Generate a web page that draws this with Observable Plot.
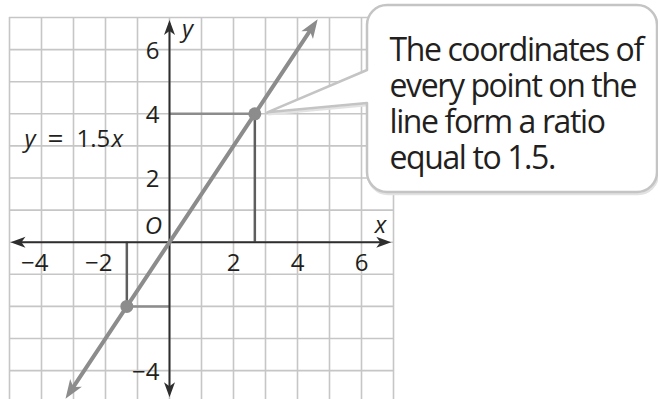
<!DOCTYPE html>
<html>
<head>
<meta charset="utf-8">
<script src="https://cdn.jsdelivr.net/npm/d3@7"></script>
<script src="https://cdn.jsdelivr.net/npm/@observablehq/plot@0.6"></script>
<style>
  html, body { margin: 0; padding: 0; background: #fff; }
  #chart svg { display: block; }
</style>
</head>
<body>
<div id="chart"></div>
<script>
// Coordinate grid, axis tick labels
const gridX = d3.range(-5, 8);
const gridY = d3.range(-4, 8);
const xTicks = [-4, -2, 2, 4, 6];
const yTicks = [6, 4, 2, -4];

// The line y = 1.5x, its drawn extent and the two marked points
const slope = 1.5;
const lineEnds = [-3.25, 4.63];
const markedPoints = [
  {x: -4 / 3, y: -2},
  {x: 8 / 3, y: 4}
];

const calloutText = "The coordinates of\nevery point on the\nline form a ratio\nequal to 1.5.";

// Layout
const W = 658, H = 399;
const M = {left: 9, right: 265, top: 17, bottom: 0};
const xDomain = [-5, 7], yDomain = [-4.9, 7];
const kx = (W - M.left - M.right) / (xDomain[1] - xDomain[0]);
const ky = (H - M.top - M.bottom) / (yDomain[1] - yDomain[0]);

const FONT = "'Open Sans', sans-serif";
const INK = "#231f20";
const AXIS = "#2e2e2e";
const GRID = "#c6c6c6";
const LINE = "#8c8c8c";
const GUIDE_DARK = "#5e5e5e";
const FS = 24;

const fmt = v => (v < 0 ? "\u2212" : "") + Math.abs(v);

// Notched arrowhead with its tip at the origin, pointing up
function head(len, hw, notch) {
  return {
    draw(ctx) {
      ctx.moveTo(0, 0);
      ctx.lineTo(-hw, len);
      ctx.lineTo(0, len - notch);
      ctx.lineTo(hw, len);
      ctx.closePath();
    }
  };
}

// Line geometry in pixel terms for the arrowhead angle and trimming
const angle = Math.atan2(kx, slope * ky) * 180 / Math.PI;
const trim = 8 / Math.hypot(kx, slope * ky); // 8px along the line, in x units
const lineData = [
  {x: lineEnds[0] + trim, y: slope * (lineEnds[0] + trim)},
  {x: lineEnds[1] - trim, y: slope * (lineEnds[1] - trim)}
];
const lineHeads = [
  {x: lineEnds[0], y: slope * lineEnds[0], rot: angle + 180},
  {x: lineEnds[1], y: slope * lineEnds[1], rot: angle}
];

const axisHeads = [
  {x: -4.97, y: 0, rot: -90},
  {x: 6.93, y: 0, rot: 90},
  {x: 0, y: 6.92, rot: 0},
  {x: 0, y: -4.83, rot: 180}
];

// Callout bubble: rounded box with a pointer aimed at the upper marked point
function callout(index, {x, y}) {
  const px = x(markedPoints[1].x) + 13, py = y(markedPoints[1].y) - 1;
  const L = 367, T = 5, R = 657, B = 192, r = 20, a1 = 70, a2 = 103;
  const d = `M${L + r},${T}H${R - r}A${r},${r} 0 0 1 ${R},${T + r}V${B - r}` +
    `A${r},${r} 0 0 1 ${R - r},${B}H${L + r}A${r},${r} 0 0 1 ${L},${B - r}` +
    `V${a2}L${px},${py}L${L},${a1}V${T + r}A${r},${r} 0 0 1 ${L + r},${T}Z`;
  const g = d3.create("svg:g");
  g.append("path").attr("d", d).attr("transform", "translate(1,2)")
    .attr("fill", "none").attr("stroke", "#e2e2e2").attr("stroke-width", 2.5);
  g.append("path").attr("d", d).attr("fill", "#fff")
    .attr("stroke", "#c4c4c4").attr("stroke-width", 2.5).attr("stroke-linejoin", "round");
  return g.node();
}

// Equation "y = 1.5x" set piecewise so the variables are italic
const eqX = -4.5, eqY = 3.2;
const eqText = (t, dx, italic, size = FS) => Plot.text([t], {x: eqX, y: eqY, text: d => d,
  textAnchor: "start", dx, fontSize: size, fontStyle: italic ? "italic" : "normal", fill: INK});

const chart = Plot.plot({
  width: W,
  height: H,
  marginLeft: M.left,
  marginRight: M.right,
  marginTop: M.top,
  marginBottom: M.bottom,
  x: {domain: xDomain, axis: null},
  y: {domain: yDomain, axis: null},
  style: {fontFamily: FONT, background: "#fff", color: INK},
  marks: [
    // grid
    Plot.ruleX(gridX, {x: d => d, y1: yDomain[0], y2: 7, stroke: GRID, strokeWidth: 1.6}),
    Plot.ruleY(gridY, {y: d => d, x1: -5, x2: 7, stroke: GRID, strokeWidth: 1.6}),

    // guide segments from the marked points to the axes
    Plot.ruleY(markedPoints, {y: "y", x1: 0, x2: "x", stroke: LINE, strokeWidth: 2.5}),
    Plot.ruleX(markedPoints, {x: "x", y1: 0, y2: "y", stroke: GUIDE_DARK, strokeWidth: 2.5}),

    // axes with arrowheads
    Plot.ruleY([0], {x1: -4.8, x2: 6.8, stroke: AXIS, strokeWidth: 2}),
    Plot.ruleX([0], {y1: -4.7, y2: 6.8, stroke: AXIS, strokeWidth: 2}),
    Plot.vector(axisHeads, {x: "x", y: "y", rotate: "rot", anchor: "start",
      shape: head(15, 5.5, 4), fill: AXIS, stroke: "none"}),

    // the line y = 1.5x
    Plot.line(lineData, {x: "x", y: "y", stroke: LINE, strokeWidth: 4}),
    Plot.vector(lineHeads, {x: "x", y: "y", rotate: "rot", anchor: "start",
      shape: head(19, 7, 5), fill: LINE, stroke: "none"}),
    Plot.dot(markedPoints, {x: "x", y: "y", r: 6.5, fill: LINE, stroke: "none"}),

    // tick labels
    Plot.text(xTicks, {x: d => d, y: 0, text: fmt, textAnchor: "end", dx: 7, dy: 21,
      fontSize: FS, fill: INK}),
    Plot.text(yTicks, {x: 0, y: d => d, text: fmt, textAnchor: "end", dx: -10, dy: 1.5,
      fontSize: FS, fill: INK}),

    // axis names and origin
    Plot.text(["O"], {x: 0, y: 0, text: d => d, dx: -16, dy: -16, fontSize: FS,
      fontStyle: "italic", fill: INK}),
    Plot.text(["y"], {x: 0, y: 7, text: d => d, dx: 18, dy: 12, fontSize: FS,
      fontStyle: "italic", fill: INK}),
    Plot.text(["x"], {x: 7, y: 0, text: d => d, dx: -13, dy: -17, fontSize: FS,
      fontStyle: "italic", fill: INK}),

    // equation label
    eqText("y", -1, true),
    eqText("=", 22, false, 28),
    eqText("1.5", 51, false),
    eqText("x", 86, true),

    // callout
    callout,
    Plot.text([calloutText], {frameAnchor: "top-left", dx: 380, dy: 17.5, text: d => d,
      textAnchor: "start", lineAnchor: "top", lineHeight: 1.125, fontSize: 32, fill: INK})
  ]
});

// slightly tighter tracking for the callout text
d3.select(chart).selectAll("text")
  .filter(function() { return this.textContent.startsWith("The coordinates"); })
  .style("letter-spacing", "-1.4px");

document.getElementById("chart").appendChild(chart);
</script>
</body>
</html>
